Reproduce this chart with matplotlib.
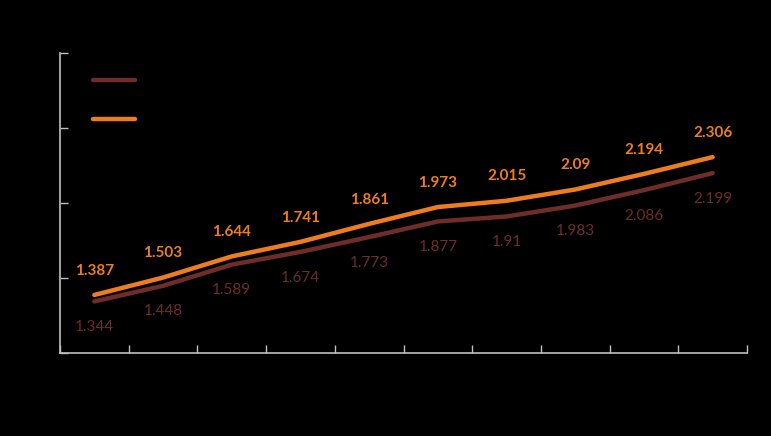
import matplotlib
matplotlib.use("Agg")
import matplotlib.pyplot as plt
import numpy as np

categories = ["1", "2", "3", "4", "5", "6", "7", "8", "9", "10"]
series_a = [1.344, 1.448, 1.589, 1.674, 1.773, 1.877, 1.91, 1.983, 2.086, 2.199]
series_b = [1.387, 1.503, 1.644, 1.741, 1.861, 1.973, 2.015, 2.09, 2.194, 2.306]
series_names = ["Series 1", "Series 2"]
y_ticks = [1.0, 1.5, 2.0, 2.5, 3.0]

c_a = "#6E2D28"
c_b = "#EE7D1F"
axis_c = "#BFBFBF"

plt.rcParams["font.family"] = ["Lato", "DejaVu Sans"]

fig = plt.figure(figsize=(7.71, 4.36), dpi=100, facecolor="black")
ax = fig.add_axes([60/771, 1-353/436, (747-60)/771, 300/436], facecolor="black")

x = np.arange(len(categories))
ax.plot(x, series_a, color=c_a, lw=3.2, solid_capstyle="round", solid_joinstyle="round", label=series_names[0])
ax.plot(x, series_b, color=c_b, lw=3.2, solid_capstyle="round", solid_joinstyle="round", label=series_names[1])

for xi, v in zip(x, series_a):
    ax.annotate(f"{v:g}", (xi, v), xytext=(0, -18.5), textcoords="offset points",
                ha="center", va="center", color=c_a, fontsize=11)
for xi, v in zip(x, series_b):
    ax.annotate(f"{v:g}", (xi, v), xytext=(0, 17.5), textcoords="offset points",
                ha="center", va="center", color=c_b, fontsize=11, fontweight="bold")

ax.set_xlim(-0.5, len(categories) - 0.5)
ax.set_ylim(y_ticks[0], y_ticks[-1])
ax.set_yticks(y_ticks)
ax.set_yticklabels([f"{t:g}" for t in y_ticks], color="black", fontsize=9)
ax.set_xticks(np.arange(len(categories) + 1) - 0.5)
ax.set_xticklabels([""] * (len(categories) + 1))
ax.set_xticks(x, minor=True)
ax.set_xticklabels(categories, minor=True, color="black", fontsize=9)
ax.tick_params(axis="x", which="minor", length=0)
ax.tick_params(axis="both", which="major", direction="in", length=6, color=axis_c, width=1)

for s in ["top", "right"]:
    ax.spines[s].set_visible(False)
for s in ["left", "bottom"]:
    ax.spines[s].set_color(axis_c)
    ax.spines[s].set_linewidth(1.2)

leg = ax.legend(loc="upper left", bbox_to_anchor=(0.03, 0.968), frameon=False,
                labelspacing=1.95, handlelength=3.0, fontsize=10, labelcolor="black")

fig.savefig("out.png", dpi=100, facecolor="black")
